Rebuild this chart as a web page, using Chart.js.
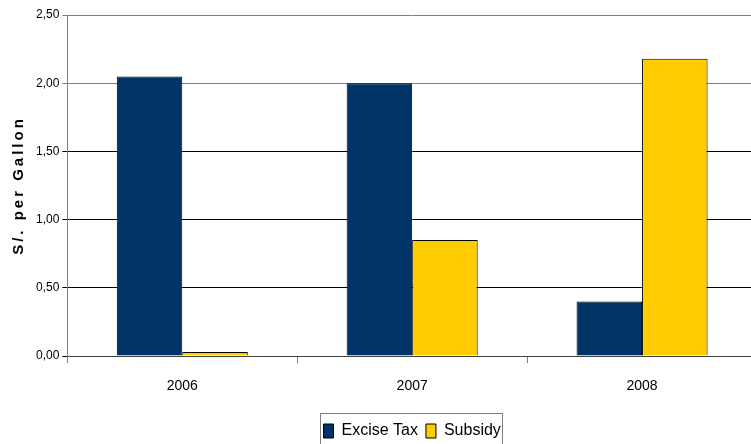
<!DOCTYPE html>
<html lang="en">
  <head>
    <meta charset="UTF-8" />
    <title>S/. per Gallon</title>
    <script src="https://cdn.jsdelivr.net/npm/chart.js"></script>
    <style>
      html, body {
        margin: 0;
        padding: 0;
        background: #ffffff;
        overflow: hidden;
      }
      canvas {
        display: block;
      }
    </style>
  </head>
  <body>
    <canvas id="taxChart" width="760" height="452"></canvas>

    <script>
      // values
      const years = ['2006', '2007', '2008'];
      const exciseTax = [2.05, 2.00, 0.40];
      const subsidy = [0.03, 0.85, 2.18];
      const yTickLabels = ['0,00', '0,50', '1,00', '1,50', '2,00', '2,50'];

      const FONT = "'Liberation Sans', Arial, sans-serif";

      // the axis title is letter-spaced in the original
      const spacedTitle = {
        id: 'spacedTitle',
        afterUpdate(chart) {
          const s = chart.scales.y;
          if (!s || s._spaced) return;
          const orig = s.drawTitle;
          s.drawTitle = function () {
            this.ctx.save();
            this.ctx.letterSpacing = '3px';
            orig.call(this);
            this.ctx.restore();
          };
          s._spaced = true;
        }
      };

      // thin frame around the legend
      const legendFrame = {
        id: 'legendFrame',
        afterDraw(chart) {
          const boxes = chart.legend.legendHitBoxes;
          if (!boxes || !boxes.length) return;
          const first = boxes[0];
          const last = boxes[boxes.length - 1];
          const ctx = chart.ctx;
          ctx.save();
          ctx.strokeStyle = '#808080';
          ctx.lineWidth = 1;
          const x = Math.round(first.left - 3) + 0.5;
          const y = Math.round(first.top - 10) + 0.5;
          const w = Math.round(last.left + last.width - first.left + 5);
          const h = Math.round(first.height + 20);
          ctx.strokeRect(x, y, w, h);
          ctx.restore();
        }
      };

      const ctx = document.getElementById('taxChart').getContext('2d');
      const chart = new Chart(ctx, {
        type: 'bar',
        data: {
          labels: years,
          datasets: [
            {
              label: 'Excise Tax',
              data: exciseTax,
              backgroundColor: '#003366',
              borderColor: '#000000',
              borderWidth: 1
            },
            {
              label: 'Subsidy',
              data: subsidy,
              backgroundColor: '#FFCC00',
              borderColor: '#000000',
              borderWidth: 1
            }
          ]
        },
        options: {
          responsive: false,
          animation: false,
          devicePixelRatio: 1,
          categoryPercentage: 0.57,
          barPercentage: 1,
          layout: {
            padding: { left: 6, right: 3, top: 15, bottom: 3 }
          },
          plugins: {
            tooltip: { enabled: false },
            legend: {
              position: 'bottom',
              fullSize: false,
              labels: {
                boxWidth: 10,
                boxHeight: 14,
                padding: 8,
                color: '#000000',
                font: { family: FONT, size: 16 }
              }
            }
          },
          scales: {
            x: {
              grid: {
                offset: true,
                drawOnChartArea: false,
                drawTicks: true,
                tickLength: 7,
                color: '#808080'
              },
              border: { display: true, color: '#404040' },
              ticks: {
                padding: 15,
                color: '#000000',
                font: { family: FONT, size: 14 }
              },
              afterFit(scale) {
                scale.height = 59;
              }
            },
            y: {
              min: 0,
              max: 2.5,
              ticks: {
                stepSize: 0.5,
                padding: 3,
                color: '#000000',
                font: { family: FONT, size: 12 },
                callback: (value, i) => yTickLabels[i]
              },
              grid: {
                tickLength: 5,
                color: (c) => (c.tick && c.tick.value >= 2 ? '#808080' : '#000000')
              },
              border: { display: true, color: '#808080' },
              title: {
                display: true,
                text: 'S/. per Gallon',
                color: '#000000',
                padding: { top: 4, bottom: 5 },
                font: { family: FONT, size: 15, weight: 'bold' }
              }
            }
          }
        },
        plugins: [spacedTitle, legendFrame]
      });
      chart.draw();
    </script>
  </body>
</html>
